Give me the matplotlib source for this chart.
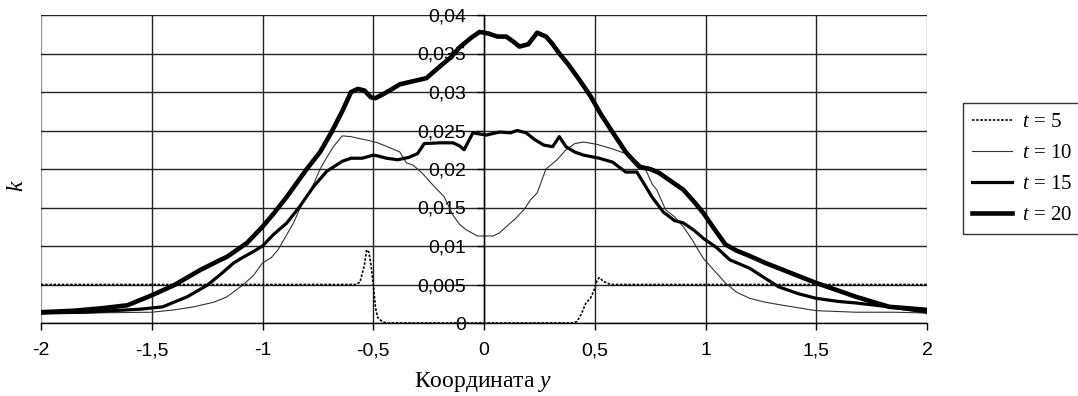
import matplotlib
matplotlib.use('Agg')
import matplotlib.pyplot as plt
from matplotlib.ticker import FuncFormatter

plt.rcParams['font.family'] = ['Liberation Sans', 'DejaVu Sans']
plt.rcParams['mathtext.fontset'] = 'custom'
plt.rcParams['mathtext.rm'] = 'Liberation Serif'
plt.rcParams['mathtext.it'] = 'Liberation Serif:italic'

# k(y) profiles at different times
y5 = [-2, -0.58, -0.56, -0.54, -0.53, -0.52, -0.51, -0.50, -0.49, -0.48, -0.46, -0.44,
      0.40, 0.42, 0.44, 0.46, 0.48, 0.49, 0.50, 0.51, 0.52, 0.54, 0.57, 2]
k5 = [0.005, 0.005, 0.0053, 0.0075, 0.0095, 0.0092, 0.0075, 0.005, 0.002, 0.0007, 0.0002, 0,
      0, 0.0002, 0.0012, 0.0026, 0.0032, 0.0038, 0.0045, 0.0055, 0.0059, 0.0054, 0.005, 0.005]

y10 = [-2, -1.8, -1.5, -1.4, -1.31, -1.22, -1.16, -1.09, -1.04, -1.0, -0.96, -0.93, -0.89,
       -0.86, -0.82, -0.80, -0.77, -0.74, -0.71, -0.68, -0.64, -0.60, -0.57, -0.52, -0.48,
       -0.42, -0.38, -0.35, -0.32, -0.28, -0.24, -0.18, -0.14, -0.11, -0.08, -0.03, 0.04,
       0.07, 0.10, 0.14, 0.18, 0.21, 0.24, 0.28, 0.33, 0.37, 0.41, 0.45, 0.51, 0.57, 0.64,
       0.69, 0.73, 0.76, 0.78, 0.82, 0.86, 0.90, 0.94, 0.99, 1.04, 1.09, 1.14, 1.2, 1.27,
       1.35, 1.5, 1.68, 1.85, 2.0]
k10 = [0.0012, 0.0013, 0.0014, 0.0017, 0.0021, 0.0027, 0.0034, 0.0049, 0.0062, 0.0078,
       0.0085, 0.0095, 0.0115, 0.013, 0.0156, 0.0164, 0.018, 0.020, 0.0215, 0.0229, 0.0243,
       0.0242, 0.024, 0.0237, 0.0234, 0.0227, 0.0222, 0.0208, 0.0205, 0.0195, 0.0182, 0.0164,
       0.0140, 0.0128, 0.0121, 0.0113, 0.0113, 0.0117, 0.0125, 0.0135, 0.0147, 0.0160,
       0.0169, 0.020, 0.0212, 0.0225, 0.0233, 0.0235, 0.0232, 0.0227, 0.022, 0.021, 0.0199,
       0.018, 0.0173, 0.0147, 0.0138, 0.0125, 0.0108, 0.0084, 0.0068, 0.0052, 0.0040,
       0.0032, 0.0027, 0.0023, 0.0016, 0.0014, 0.0014, 0.0013]

y15 = [-2, -1.8, -1.55, -1.45, -1.40, -1.34, -1.25, -1.19, -1.13, -1.09, -1.04, -1.0, -0.95,
       -0.89, -0.83, -0.77, -0.71, -0.64, -0.60, -0.55, -0.50, -0.48, -0.44, -0.39, -0.34,
       -0.30, -0.27, -0.2, -0.14, -0.11, -0.09, -0.05, 0.01, 0.07, 0.12, 0.15, 0.19, 0.23,
       0.27, 0.31, 0.34, 0.37, 0.41, 0.45, 0.52, 0.58, 0.64, 0.69, 0.72, 0.76, 0.81, 0.86,
       0.90, 0.95, 0.99, 1.05, 1.11, 1.2, 1.27, 1.33, 1.42, 1.5, 1.6, 1.68, 1.83, 2.0]
k15 = [0.0013, 0.0014, 0.0018, 0.0021, 0.0027, 0.0034, 0.0049, 0.0063, 0.0078, 0.0085,
       0.0093, 0.0100, 0.0115, 0.013, 0.0152, 0.0177, 0.0197, 0.0210, 0.0214, 0.0214, 0.0218,
       0.0217, 0.0214, 0.0212, 0.0215, 0.022, 0.0233, 0.0234, 0.0234, 0.0230, 0.0225, 0.0247,
       0.0244, 0.0248, 0.0247, 0.0250, 0.0247, 0.0238, 0.0231, 0.0229, 0.0242, 0.0229,
       0.0222, 0.0218, 0.0214, 0.0209, 0.0196, 0.0196, 0.0182, 0.0163, 0.0144, 0.0133,
       0.013, 0.012, 0.0110, 0.0098, 0.0082, 0.0071, 0.0058, 0.0047, 0.0038, 0.0032, 0.0028,
       0.0026, 0.0021, 0.0014]

y20 = [-2, -1.85, -1.73, -1.61, -1.5, -1.40, -1.28, -1.19, -1.16, -1.07, -1.0, -0.95, -0.89,
       -0.80, -0.74, -0.69, -0.64, -0.60, -0.57, -0.54, -0.51, -0.49, -0.45, -0.42, -0.38,
       -0.32, -0.26, -0.20, -0.15, -0.11, -0.06, -0.02, 0.02, 0.06, 0.10, 0.13, 0.16, 0.20,
       0.24, 0.28, 0.31, 0.34, 0.38, 0.43, 0.48, 0.53, 0.58, 0.64, 0.70, 0.75, 0.79, 0.84,
       0.90, 0.95, 0.99, 1.04, 1.09, 1.14, 1.2, 1.27, 1.35, 1.42, 1.5, 1.58, 1.68, 1.76,
       1.83, 1.92, 2.0]
k20 = [0.0014, 0.0016, 0.0019, 0.0023, 0.0036, 0.0049, 0.0069, 0.0082, 0.0086, 0.0104,
       0.0125, 0.0142, 0.0164, 0.020, 0.0222, 0.0247, 0.0275, 0.0300, 0.0304, 0.0302, 0.0293,
       0.0292, 0.0298, 0.0303, 0.0310, 0.0314, 0.0318, 0.0333, 0.0345, 0.0358, 0.0370,
       0.0378, 0.0376, 0.0372, 0.0372, 0.0366, 0.0359, 0.0362, 0.0377, 0.0372, 0.0362,
       0.0350, 0.0336, 0.0316, 0.0295, 0.0270, 0.0248, 0.0222, 0.0203, 0.0200, 0.0195,
       0.0185, 0.0173, 0.0157, 0.0143, 0.0122, 0.0102, 0.0094, 0.0087, 0.0078, 0.0069,
       0.0061, 0.0052, 0.0044, 0.0034, 0.0027, 0.0021, 0.0019, 0.0017]

xticks = [-2, -1.5, -1, -0.5, 0, 0.5, 1, 1.5, 2]
yticks = [0, 0.005, 0.01, 0.015, 0.02, 0.025, 0.03, 0.035, 0.04]


def comma(v, pos=None):
    return ('%g' % v).replace('.', ',')


fig = plt.figure(figsize=(10.78, 3.96), dpi=100)
ax = fig.add_axes([41 / 1078, 1 - 323 / 396, (927 - 41) / 1078, (323 - 15) / 396])

ax.plot(y5, k5, color='black', lw=1.2, ls=(0, (1.5, 1)), label='$t$ = 5')
ax.plot(y10, k10, color='#333333', lw=0.8, label='$t$ = 10')
ax.plot(y15, k15, color='black', lw=2.3, label='$t$ = 15')
ax.plot(y20, k20, color='black', lw=3.3, label='$t$ = 20')

ax.set_xlim(-2, 2)
ax.set_ylim(0, 0.04)
ax.set_xticks(xticks)
ax.set_yticks(yticks)
ax.xaxis.set_major_formatter(FuncFormatter(comma))
ax.yaxis.set_major_formatter(FuncFormatter(comma))
ax.tick_params(labelsize=14, colors='black', length=5, width=1)
ax.tick_params(axis='x', pad=9)
ax.tick_params(axis='y', pad=8)

ax.set_axisbelow(True)
ax.grid(True, color='#222222', lw=1)
# outer edges of the plot area are lighter
for gl in (ax.get_xgridlines()[0], ax.get_xgridlines()[-1], ax.get_ygridlines()[-1]):
    gl.set_color('#999999')

ax.spines['left'].set_position(('data', 0))
ax.spines['top'].set_visible(False)
ax.spines['right'].set_visible(False)
ax.spines['left'].set_linewidth(1)
ax.spines['bottom'].set_linewidth(1)

fig.text(483 / 1078, 1 - 382 / 396, 'Координата $y$', family='Liberation Serif',
         fontsize=17, ha='center', va='center')
fig.text(17 / 1078, 1 - 186 / 396, '$k$', fontsize=17, rotation=90,
         ha='center', va='center')

leg = fig.legend(loc='upper left', bbox_to_anchor=(963 / 1078, 1 - 103 / 396),
                 borderaxespad=0, frameon=True, fancybox=False, edgecolor='black',
                 prop={'family': 'Liberation Serif', 'size': 15}, handlelength=1.9,
                 handletextpad=0.5, labelspacing=0.55, borderpad=0.45)
leg.get_frame().set_linewidth(1)

fig.savefig('out.png', dpi=100)
